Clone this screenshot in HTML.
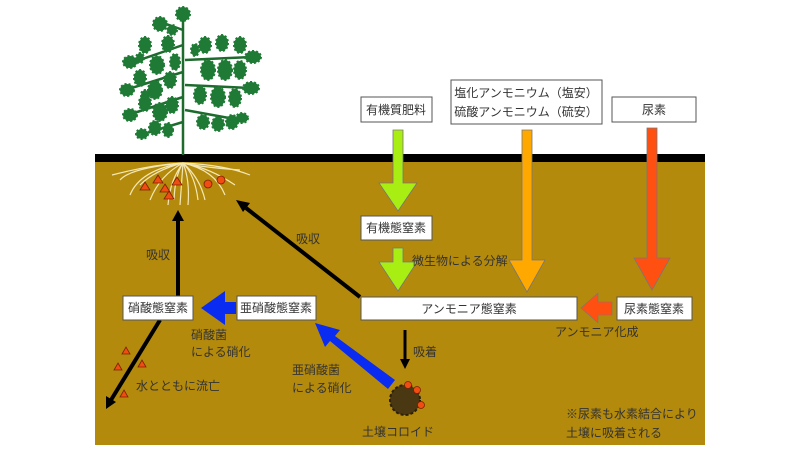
<!DOCTYPE html>
<html><head><meta charset="utf-8"><style>
html,body{margin:0;padding:0;background:#fff;width:800px;height:450px;overflow:hidden}
svg{display:block}
text{font-family:"Liberation Sans","Noto Sans CJK JP",sans-serif;font-size:12px;fill:#333}
.b{fill:#fff;stroke:#555;stroke-width:1}
</style></head><body>
<svg width="800" height="450" viewBox="0 0 800 450">
<rect x="95" y="158" width="610" height="287" fill="#B48A0C"/>
<rect x="95" y="154" width="610" height="8" fill="#000"/>
<!-- plant -->
<g stroke="#1e6b2e" stroke-width="2.5" fill="none">
<path d="M183 155 L183 8"/>
<path d="M183 30 L155 20"/>
<path d="M183 45 L125 65"/><path d="M183 72 L125 90"/><path d="M183 97 L128 115"/><path d="M183 122 L140 135"/>
<path d="M185 60 L252 57"/><path d="M185 85 L250 88"/><path d="M185 110 L240 120"/>
</g>
<g fill="#1e7a34" stroke="#1e7a34" stroke-width="2" stroke-dasharray="2 2">
<circle cx="183" cy="14" r="7"/><circle cx="160" cy="24" r="7"/><circle cx="172" cy="30" r="5"/>
<ellipse cx="130" cy="62" rx="7" ry="6"/><ellipse cx="145" cy="45" rx="6" ry="8"/><ellipse cx="157" cy="65" rx="7" ry="9"/><ellipse cx="168" cy="44" rx="6" ry="8"/><ellipse cx="175" cy="62" rx="5" ry="8"/><ellipse cx="140" cy="58" rx="4" ry="5"/>
<ellipse cx="127" cy="90" rx="7" ry="6"/><ellipse cx="140" cy="78" rx="6" ry="8"/><ellipse cx="155" cy="90" rx="7" ry="9"/><ellipse cx="170" cy="80" rx="6" ry="8"/><ellipse cx="145" cy="95" rx="4" ry="5"/>
<ellipse cx="130" cy="115" rx="7" ry="6"/><ellipse cx="145" cy="103" rx="6" ry="8"/><ellipse cx="160" cy="112" rx="7" ry="9"/><ellipse cx="172" cy="105" rx="6" ry="8"/>
<ellipse cx="142" cy="134" rx="6" ry="5"/><ellipse cx="155" cy="128" rx="6" ry="7"/><ellipse cx="168" cy="130" rx="5" ry="7"/>
<ellipse cx="205" cy="45" rx="6" ry="8"/><ellipse cx="222" cy="43" rx="6" ry="8"/><ellipse cx="240" cy="45" rx="6" ry="8"/><ellipse cx="253" cy="57" rx="8" ry="6"/>
<ellipse cx="208" cy="70" rx="7" ry="10"/><ellipse cx="225" cy="70" rx="7" ry="10"/><ellipse cx="240" cy="70" rx="6" ry="9"/><ellipse cx="195" cy="50" rx="4" ry="6"/>
<ellipse cx="200" cy="95" rx="6" ry="9"/><ellipse cx="218" cy="97" rx="7" ry="10"/><ellipse cx="235" cy="98" rx="6" ry="9"/><ellipse cx="251" cy="88" rx="8" ry="6"/>
<ellipse cx="203" cy="122" rx="6" ry="7"/><ellipse cx="218" cy="124" rx="6" ry="7"/><ellipse cx="232" cy="122" rx="6" ry="7"/><ellipse cx="242" cy="118" rx="6" ry="5"/>
</g>
<!-- roots -->
<g stroke="#f3e7b4" stroke-width="1.2" fill="none">
<path d="M183 163 Q150 165 112 175"/><path d="M183 163 Q140 170 130 195"/><path d="M183 163 Q160 175 150 200"/><path d="M183 163 Q170 180 168 205"/><path d="M183 163 L180 205"/><path d="M183 163 Q190 180 188 205"/><path d="M183 163 Q200 178 205 200"/><path d="M183 163 Q215 170 225 195"/><path d="M183 163 Q225 165 250 175"/><path d="M183 163 Q200 167 240 170"/><path d="M183 163 Q130 168 120 180"/><path d="M183 163 Q155 170 140 185"/><path d="M183 163 Q195 175 198 200"/><path d="M183 163 Q175 175 174 200"/><path d="M183 163 Q210 168 235 185"/>
</g>
<g fill="#f04d12" stroke="#7a2000" stroke-width="0.8">
<polygon points="145,182 150,190 140,190"/><polygon points="158,175 163,183 153,183"/><polygon points="165,184 170,192 160,192"/><polygon points="177,177 182,185 172,185"/><polygon points="169,191 174,199 164,199"/>
<circle cx="208" cy="184" r="4"/><circle cx="221" cy="180" r="4"/>
<polygon points="126,347 130,354 122,354"/><polygon points="118,363 122,370 114,370"/><polygon points="142,360 146,367 138,367"/><polygon points="124,390 128,397 120,397"/>
</g>
<!-- black arrows -->
<g stroke="#000" stroke-width="4" fill="#000">
<line x1="178" y1="296" x2="178" y2="220"/><polygon points="178,210 172,221 184,221" stroke="none"/>
<line x1="360" y1="297" x2="246" y2="208"/><polygon points="236,200 250,203 243,212" stroke="none"/>
<line x1="160" y1="320" x2="111" y2="400"/><polygon points="106,409 106,396 116,402" stroke="none"/>
<line x1="405" y1="330" x2="405" y2="360" stroke-width="3"/><polygon points="405,369 400,359 410,359" stroke="none"/>
</g>
<!-- colored arrows -->
<polygon points="393,130 403,130 403,183 417,183 398,211 379,183 393,183" fill="#a8ee12" stroke="#777" stroke-width="0.8"/>
<polygon points="393,248 403,248 403,262 417,262 398,291 379,262 393,262" fill="#a8ee12" stroke="#777" stroke-width="0.8"/>
<polygon points="522,130 532,130 532,260 545,260 527,292 509,260 522,260" fill="#ffa900" stroke="#777" stroke-width="0.8"/>
<polygon points="647,128 657,128 657,258 670,258 652,290 634,258 647,258" fill="#ff5012" stroke="#777" stroke-width="0.8"/>
<polygon points="612,302 612,315 598,315 598,323 581,308 598,293 598,302" fill="#ff5012" stroke="#777" stroke-width="0.6"/>
<polygon points="236,302 236,314 225,314 225,325 201,308 225,291 225,302" fill="#0a2cf0"/>
<polygon points="395,380 388,389 330,341 325,347 315,323 340,330 335,336" fill="#0a2cf0"/>
<!-- colloid -->
<circle cx="405" cy="400" r="15" fill="#4a3812" stroke="#2c200a" stroke-width="2" stroke-dasharray="3 2"/>
<g fill="#f04d12" stroke="#7a2000" stroke-width="0.8"><circle cx="408" cy="385" r="3.5"/><circle cx="417" cy="390" r="3.5"/><circle cx="421" cy="405" r="3.5"/></g>
<!-- boxes -->
<rect class="b" x="361" y="97" width="71" height="25"/><text x="396" y="114" text-anchor="middle">有機質肥料</text>
<rect class="b" x="451" y="80" width="151" height="44"/><text x="526" y="97" text-anchor="middle">塩化アンモニウム（塩安）</text><text x="526" y="116" text-anchor="middle">硫酸アンモニウム（硫安）</text>
<rect class="b" x="612" y="97" width="84" height="25"/><text x="654" y="114" text-anchor="middle">尿素</text>
<rect class="b" x="361" y="216" width="71" height="24"/><text x="396" y="232" text-anchor="middle">有機態窒素</text>
<rect class="b" x="361" y="297" width="216" height="23"/><text x="469" y="313" text-anchor="middle">アンモニア態窒素</text>
<rect class="b" x="617" y="297" width="75" height="23"/><text x="654" y="313" text-anchor="middle">尿素態窒素</text>
<rect class="b" x="237" y="296" width="79" height="24"/><text x="276" y="312" text-anchor="middle">亜硝酸態窒素</text>
<rect class="b" x="123" y="296" width="70" height="24"/><text x="158" y="312" text-anchor="middle">硝酸態窒素</text>
<!-- labels -->
<text x="412" y="265">微生物による分解</text>
<text x="555" y="336">アンモニア化成</text>
<text x="413" y="356">吸着</text>
<text x="362" y="436">土壌コロイド</text>
<text x="292" y="374">亜硝酸菌</text><text x="292" y="392">による硝化</text>
<text x="191" y="339">硝酸菌</text><text x="191" y="356">による硝化</text>
<text x="146" y="259">吸収</text>
<text x="296" y="243">吸収</text>
<text x="136" y="390">水とともに流亡</text>
<text x="566" y="418">※尿素も水素結合により</text>
<text x="566" y="437">土壌に吸着される</text>
</svg>
</body></html>
